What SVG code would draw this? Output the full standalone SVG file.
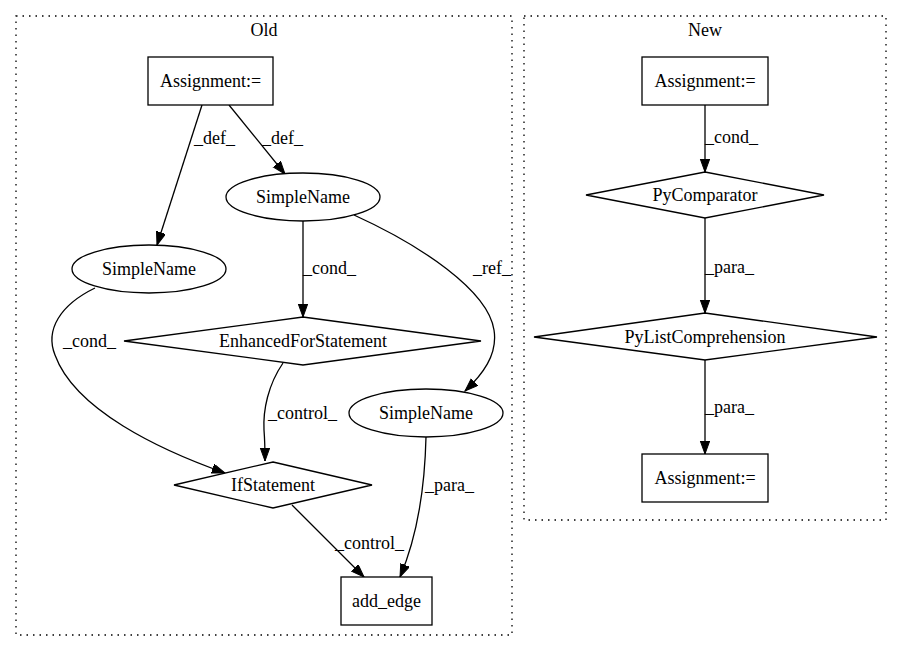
<svg xmlns="http://www.w3.org/2000/svg" width="901" height="652" viewBox="0 0 901 652">
<defs>
<marker id="arr" markerUnits="userSpaceOnUse" markerWidth="14" markerHeight="11" refX="13" refY="4.7" orient="auto">
<path d="M0,0 L13,4.7 L0,9.4 z" fill="#000" stroke="#000" stroke-width="1"/>
</marker>
</defs>
<style>
text{font-family:"Liberation Serif","Times New Roman",serif;font-size:18px;fill:#000}
.c{text-anchor:middle}
.n{fill:#fff;stroke:#000;stroke-width:1.3}
.cl{fill:none;stroke:#000;stroke-width:1.3;stroke-dasharray:1.5,5}
.e{fill:none;stroke:#000;stroke-width:1.3;marker-end:url(#arr)}
</style>
<rect width="901" height="652" fill="#fff"/>
<g id="cluster_old">
<rect class="cl" x="16" y="16" width="496" height="619"/>
<text class="c" x="264" y="36">Old</text>
</g>
<g id="cluster_new">
<rect class="cl" x="524" y="16" width="362" height="504"/>
<text class="c" x="705" y="36">New</text>
</g>
<g id="connectors">
<path class="e" d="M202,105 L157,245"/>
<text x="194" y="144">_def_</text>
<path class="e" d="M229,105 L285,174"/>
<text x="262" y="144">_def_</text>
<path class="e" d="M303,221 L303,317"/>
<text x="303" y="274">_cond_</text>
<path class="e" d="M354,215 C420,245 488,290 494,330 C498,355 482,375 465,391"/>
<text x="473" y="274">_ref_</text>
<path class="e" d="M95,288 C60,305 45,330 55,355 C75,410 160,450 225,473"/>
<text x="63" y="347">_cond_</text>
<path class="e" d="M283,363 C268,385 263,410 264,430 C265,443 265,452 265,461"/>
<text x="268" y="419">_control_</text>
<path class="e" d="M292,505 L364,577"/>
<text x="335" y="549">_control_</text>
<path class="e" d="M426,437 C425,480 420,530 400,577"/>
<text x="425" y="491">_para_</text>
<path class="e" d="M705,105 L705,172"/>
<text x="705" y="143">_cond_</text>
<path class="e" d="M705,218 L705,313"/>
<text x="705" y="273">_para_</text>
<path class="e" d="M705,360 L705,454"/>
<text x="705" y="413">_para_</text>
</g>
<g id="old_assignment">
<rect class="n" x="148" y="57" width="125" height="48"/>
<text class="c" x="210.5" y="87">Assignment:=</text>
</g>
<g id="old_simplename_top">
<ellipse class="n" cx="303" cy="197" rx="77" ry="24"/>
<text class="c" x="303" y="203">SimpleName</text>
</g>
<g id="old_simplename_left">
<ellipse class="n" cx="149" cy="269" rx="77" ry="24"/>
<text class="c" x="149" y="275">SimpleName</text>
</g>
<g id="old_enhancedfor">
<polygon class="n" points="303,317 481,341 303,365 124,341"/>
<text class="c" x="303" y="347">EnhancedForStatement</text>
</g>
<g id="old_simplename_right">
<ellipse class="n" cx="426" cy="413" rx="77" ry="24"/>
<text class="c" x="426" y="419">SimpleName</text>
</g>
<g id="old_ifstatement">
<polygon class="n" points="273,462 372,485 273,508 174,485"/>
<text class="c" x="273" y="491">IfStatement</text>
</g>
<g id="old_add_edge">
<rect class="n" x="341" y="577" width="91" height="48"/>
<text class="c" x="386.5" y="607">add_edge</text>
</g>
<g id="new_assignment_top">
<rect class="n" x="642" y="57" width="126" height="48"/>
<text class="c" x="705" y="87">Assignment:=</text>
</g>
<g id="new_pycomparator">
<polygon class="n" points="705,172 824,195 705,218 586,195"/>
<text class="c" x="705" y="201">PyComparator</text>
</g>
<g id="new_pylistcomprehension">
<polygon class="n" points="705,313 877,337 705,360 534,337"/>
<text class="c" x="705" y="343">PyListComprehension</text>
</g>
<g id="new_assignment_bottom">
<rect class="n" x="642" y="454" width="126" height="48"/>
<text class="c" x="705" y="484">Assignment:=</text>
</g>
</svg>
